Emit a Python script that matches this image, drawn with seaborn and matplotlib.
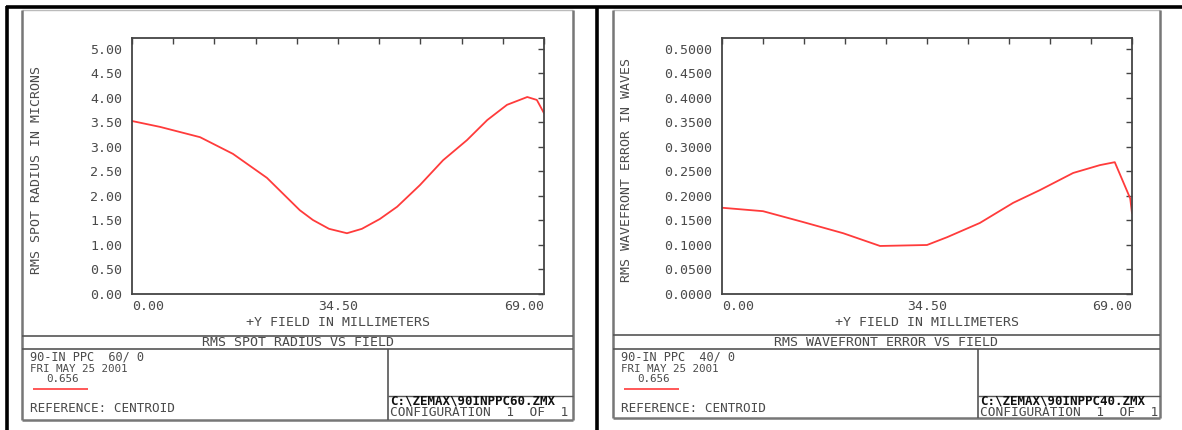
import numpy as np
import matplotlib
matplotlib.use('Agg')
import matplotlib.pyplot as plt
from matplotlib.lines import Line2D
import seaborn as sns

# field positions (mm) and values
spot_field = [0.0, 4.7, 11.4, 16.9, 22.6, 28.1, 30.3, 33.0, 36.0, 38.5, 41.5, 44.4,
              48.2, 52.1, 56.1, 59.5, 62.8, 66.2, 67.8, 69.0]
spot_rms = [3.53, 3.41, 3.20, 2.86, 2.37, 1.71, 1.51, 1.33, 1.24, 1.33, 1.53, 1.78,
            2.22, 2.73, 3.14, 3.55, 3.86, 4.02, 3.96, 3.69]

wave_field = [0.0, 6.9, 13.6, 20.4, 26.6, 34.5, 37.9, 43.4, 49.0, 53.5, 59.1, 63.6,
              66.1, 68.7, 69.0]
wave_rms = [0.176, 0.169, 0.147, 0.124, 0.098, 0.100, 0.116, 0.145, 0.186, 0.212,
            0.247, 0.263, 0.269, 0.195, 0.165]

spot_yticks = ['0.00', '0.50', '1.00', '1.50', '2.00', '2.50', '3.00', '3.50', '4.00', '4.50', '5.00']
wave_yticks = ['0.0000', '0.0500', '0.1000', '0.1500', '0.2000', '0.2500', '0.3000',
               '0.3500', '0.4000', '0.4500', '0.5000']
x_labels = ['0.00', '34.50', '69.00']

W, H = 1182, 430
sns.set_style('white')
plt.rcParams['font.family'] = ['DejaVu Sans Mono', 'DejaVu Sans']

fig = plt.figure(figsize=(W / 100, H / 100), dpi=100)
TXT = '#4a4a4a'
RED = '#ff3b3b'
FS = 9.5


def fx(x):
    return x / W


def fy(y):
    return 1 - y / H


def line(x0, y0, x1, y1, c='#666666', lw=1.2):
    fig.add_artist(Line2D([fx(x0), fx(x1)], [fy(y0), fy(y1)], color=c, lw=lw,
                          transform=fig.transFigure, solid_capstyle='butt'))


def txt(x, y, s, ha='left', **kw):
    kw.setdefault('color', TXT)
    kw.setdefault('fontsize', FS)
    fig.text(fx(x), fy(y), s, ha=ha, va='center', **kw)


def panel(p):
    l, t, r, b = p['frame']
    # window frame
    line(l, t, r, t, c='#bbbbbb', lw=1.0)
    line(l, t, l, b, c='#777777', lw=1.8)
    line(r, t, r, b, c='#777777', lw=1.8)
    line(l, b, r, b, c='#777777', lw=1.8)
    line(l, p['sep1'], r, p['sep1'], c='#555555', lw=1.2)
    line(l, p['sep2'], r, p['sep2'], c='#555555', lw=1.2)
    line(p['div'], p['sep2'], p['div'], b, c='#555555', lw=1.2)
    line(p['div'], 396, r, 396, c='#555555', lw=1.0)

    # plot area
    al, at, ar, ab = p['axes']
    ax = fig.add_axes([fx(al), fy(ab), fx(ar - al), (ab - at) / H])
    sns.lineplot(x=p['x'], y=p['y'], ax=ax, color=RED, lw=1.3, sort=False,
                 estimator=None)
    ax.set_xlim(0, 69.0)
    ax.set_ylim(0, p['ytop'])
    ax.set_xticks(np.linspace(0, 69.0, 11))
    labs = [''] * 11
    labs[0], labs[5], labs[10] = x_labels
    ax.set_xticklabels(labs)
    tl = ax.get_xticklabels()
    tl[0].set_ha('left')
    tl[10].set_ha('right')
    ax.set_yticks(np.linspace(0, p['ystep'] * 10, 11))
    ax.set_yticklabels(p['ylabels'])
    ax.tick_params(direction='in', length=4, width=1.0, color='#444444',
                   labelcolor=TXT, labelsize=FS, top=True, right=True,
                   labeltop=False, labelright=False)
    ax.tick_params(axis='y', pad=7)
    ax.tick_params(axis='x', pad=4)
    for s in ax.spines.values():
        s.set_color('#444444')
        s.set_linewidth(1.3)
    ax.set_xlabel('')
    ax.set_ylabel('')
    ax.set_facecolor('white')

    # texts
    txt((al + ar) / 2, 322, '+Y FIELD IN MILLIMETERS', ha='center')
    fig.text(fx(p['ylab_x']), fy(170), p['ylab'], rotation=90, ha='center',
             va='center', color=TXT, fontsize=FS)
    txt((l + r) / 2, 343, p['title'], ha='center')
    tx = l + 8
    txt(tx, 357, p['lens'], fontsize=8.6)
    txt(tx, 368.5, p['date'], fontsize=7.8)
    txt(tx + 16, 379.5, '0.656', fontsize=7.8)
    line(tx + 3, 389, tx + 58, 389, c=RED, lw=1.2)
    txt(tx, 408, 'REFERENCE: CENTROID', fontsize=FS - 0.4)
    txt(p['div'] + 2, 401.5, p['file'], color='#111111', fontweight='bold',
        fontsize=FS - 0.5)
    txt(p['div'] + 2, 413, 'CONFIGURATION  1  OF  1', fontsize=FS - 0.2)


panels = [
    dict(frame=(22, 10, 573, 420), sep1=336, sep2=349, div=388,
         axes=(132, 38, 544, 294), x=spot_field, y=spot_rms,
         ytop=5.224, ystep=0.5, ylabels=spot_yticks, ylab_x=37,
         ylab='RMS SPOT RADIUS IN MICRONS', title='RMS SPOT RADIUS VS FIELD',
         lens='90-IN PPC  60/ 0', date='FRI MAY 25 2001',
         file='C:\\ZEMAX\\90INPPC60.ZMX'),
    dict(frame=(613, 10, 1160, 418), sep1=335, sep2=349, div=978,
         axes=(722, 38, 1132, 294), x=wave_field, y=wave_rms,
         ytop=0.5224, ystep=0.05, ylabels=wave_yticks, ylab_x=627,
         ylab='RMS WAVEFRONT ERROR IN WAVES', title='RMS WAVEFRONT ERROR VS FIELD',
         lens='90-IN PPC  40/ 0', date='FRI MAY 25 2001',
         file='C:\\ZEMAX\\90INPPC40.ZMX'),
]

for p in panels:
    panel(p)

# outer table borders
line(6, 7, W, 7, c='black', lw=2.6)
line(7, 6, 7, H, c='black', lw=2.6)
line(597, 6, 597, H, c='black', lw=2.6)

fig.savefig('out.png', dpi=100, facecolor='white')
